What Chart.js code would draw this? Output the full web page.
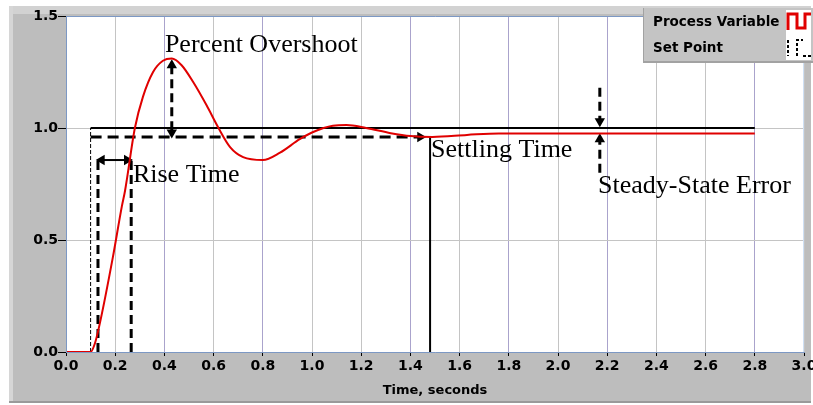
<!DOCTYPE html>
<html>
<head>
<meta charset="utf-8">
<script src="https://cdn.jsdelivr.net/npm/chart.js@4.4.1/dist/chart.umd.min.js"></script>
<style>
  html, body { margin: 0; padding: 0; background: #fff; }
  #wrap { width: 813px; height: 405px; }
</style>
</head>
<body>
<div id="wrap"><canvas id="chart" width="813" height="405"></canvas></div>
<script>
// process variable (step response)
const pvTime = [0, 0.1, 0.118, 0.138, 0.19, 0.227, 0.24, 0.28, 0.313, 0.354, 0.394, 0.43, 0.47, 0.517, 0.572, 0.62, 0.667, 0.72, 0.8, 0.87, 0.95, 1.0, 1.085, 1.14, 1.22, 1.32, 1.4, 1.49, 1.63, 1.76, 2.0, 2.4, 2.8];
const pvValue = [0, 0, 0.04, 0.13, 0.42, 0.65, 0.72, 1.0, 1.14, 1.25, 1.3, 1.31, 1.28, 1.205, 1.1, 1.0, 0.915, 0.87, 0.857, 0.89, 0.95, 0.98, 1.01, 1.013, 1.0, 0.977, 0.964, 0.96, 0.969, 0.976, 0.976, 0.976, 0.976];

// set point
const spTime = [0, 0.1, 0.1, 2.8];
const spValue = [0, 0, 1.0, 1.0];

// axis ticks
const xTicks = [0.0, 0.2, 0.4, 0.6, 0.8, 1.0, 1.2, 1.4, 1.6, 1.8, 2.0, 2.2, 2.4, 2.6, 2.8, 3.0];
const yTicks = [0.0, 0.5, 1.0, 1.5];

// annotation marks: [x0, y0, x1, y1], arrow heads at start / end
const overshootBand = [0.1, 0.96, 1.44, 0.96];
const riseLeft = [0.13, 0, 0.13, 0.857];
const riseRight = [0.265, 0, 0.265, 0.857];
const riseArrow = [0.145, 0.857, 0.248, 0.857];
const overshootArrow = [0.43, 1.28, 0.43, 0.98];
const settlingLine = [1.48, 0, 1.48, 0.96];
const sseTop = [2.17, 1.18, 2.17, 1.03];
const sseBottom = [2.17, 0.80, 2.17, 0.95];

// text labels: [text, x, y]
const labelText = ['Percent Overshoot', 'Rise Time', 'Settling Time', 'Steady-State Error'];
const labelX = [0.402, 0.272, 1.484, 2.163];
const labelY = [1.339, 0.759, 0.871, 0.71];

const legendNames = ['Process Variable', 'Set Point'];

const xGridColors = ['#c4c4c4', '#c4c4c4', '#aaa3cc', '#c4c4c4', '#aaa3cc', '#c4c4c4', '#c4c4c4', '#aaa3cc',
    '#c4c4c4', '#aaa3cc', '#c4c4c4', '#aaa3cc', '#c4c4c4', '#c4c4c4', '#aaa3cc', '#c4c4c4'];

function pts(xs, ys) {
    return xs.map((x, i) => ({ x: x, y: ys[i] }));
}

function seg(a) {
    return [{ x: a[0], y: a[1] }, { x: a[2], y: a[3] }];
}

// black annotation dataset; startRot/endRot = arrow head rotation (null = none)
function mark(a, opts) {
    const o = opts || {};
    const rots = [o.startRot, o.endRot];
    return {
        data: seg(a),
        borderColor: '#000',
        backgroundColor: '#000',
        borderWidth: o.width || 3,
        borderDash: o.dash || [],
        pointStyle: 'triangle',
        pointRadius: rots.map(r => r == null ? 0 : 6),
        pointRotation: rots.map(r => r == null ? 0 : r),
        pointBorderWidth: 0,
        tension: 0,
        order: 2
    };
}

const panelPlugin = {
    id: 'panel',
    beforeDraw(chart) {
        const c = chart.ctx;
        const a = chart.chartArea;
        c.save();
        c.fillStyle = '#fff';
        c.fillRect(0, 0, chart.width, chart.height);
        c.fillStyle = '#bdbdbd';
        c.fillRect(9, 6, 802, 397);
        c.fillStyle = '#d2d2d2';
        c.fillRect(9, 6, 802, 8);
        c.fillStyle = '#d6d6d6';
        c.fillRect(9, 6, 4, 397);
        c.fillStyle = '#9a9a9a';
        c.fillRect(9, 401, 802, 2);
        c.fillStyle = '#fff';
        c.fillRect(a.left, a.top, a.right - a.left, a.bottom - a.top);
        c.restore();
    },
    afterDraw(chart) {
        const c = chart.ctx;
        const a = chart.chartArea;
        const xs = chart.scales.x, ys = chart.scales.y;
        c.save();
        // plot frame
        c.strokeStyle = '#7c98c4';
        c.lineWidth = 1;
        c.beginPath();
        c.moveTo(a.left + 0.5, a.bottom);
        c.lineTo(a.left + 0.5, a.top + 0.5);
        c.lineTo(a.right, a.top + 0.5);
        c.stroke();
        c.strokeStyle = '#cfe0f4';
        c.beginPath();
        c.moveTo(a.right - 0.5, a.top);
        c.lineTo(a.right - 0.5, a.bottom);
        c.stroke();

        // annotation text
        c.fillStyle = '#000';
        c.font = '26px "Liberation Serif"';
        c.textBaseline = 'alphabetic';
        c.textAlign = 'left';
        labelText.forEach((t, i) => {
            c.fillText(t, xs.getPixelForValue(labelX[i]), ys.getPixelForValue(labelY[i]));
        });

        // legend box
        const lx = 643, ly = 8, lw = 170, lh = 54;
        c.fillStyle = '#c4c4c4';
        c.fillRect(lx, ly, lw, lh);
        c.fillStyle = '#a2a2a2';
        c.fillRect(lx, ly + lh - 1, lw, 2);
        c.fillRect(lx, ly, 1, lh);
        c.fillStyle = '#000';
        c.font = 'bold 13.5px "DejaVu Sans"';
        c.textBaseline = 'middle';
        c.fillText(legendNames[0], 653, 22);
        c.fillText(legendNames[1], 653, 48);
        c.fillStyle = '#fff';
        c.fillRect(786, 10, 25, 50);
        // red square wave icon
        c.strokeStyle = '#e00000';
        c.lineWidth = 3;
        c.beginPath();
        c.moveTo(788, 30);
        c.lineTo(788, 14);
        c.lineTo(797, 14);
        c.lineTo(797, 28);
        c.lineTo(805, 28);
        c.lineTo(805, 14);
        c.lineTo(811, 14);
        c.stroke();
        // black set point icon
        c.strokeStyle = '#000';
        c.lineWidth = 2;
        c.setLineDash([3, 2]);
        c.beginPath();
        c.moveTo(788, 40);
        c.lineTo(788, 56);
        c.moveTo(797, 56);
        c.lineTo(797, 40);
        c.lineTo(803, 40);
        c.moveTo(803, 56);
        c.lineTo(811, 56);
        c.stroke();
        c.restore();
    }
};

const tickFont = { family: 'DejaVu Sans', size: 14, weight: 'bold' };

new Chart(document.getElementById('chart'), {
    type: 'line',
    data: {
        datasets: [
            {
                label: legendNames[0],
                data: pts(pvTime, pvValue),
                borderColor: '#e00000',
                borderWidth: 2,
                pointRadius: 0,
                cubicInterpolationMode: 'monotone',
                order: 0
            },
            {
                label: legendNames[1],
                data: pts(spTime, spValue),
                borderColor: '#000',
                borderWidth: 2,
                pointRadius: 0,
                order: 1,
                segment: {
                    borderWidth: ctx => ctx.p0DataIndex === 1 ? 1 : 2,
                    borderDash: ctx => ctx.p0DataIndex === 1 ? [4, 2] : []
                }
            },
            mark(overshootBand, { dash: [11, 6], endRot: 90 }),
            mark(riseLeft, { dash: [9, 5] }),
            mark(riseRight, { dash: [9, 5] }),
            mark(riseArrow, { width: 2, startRot: 270, endRot: 90 }),
            mark(overshootArrow, { dash: [9, 5], startRot: 0, endRot: 180 }),
            mark(settlingLine, { width: 2 }),
            mark(sseTop, { dash: [9, 5], endRot: 180 }),
            mark(sseBottom, { dash: [9, 5], endRot: 0 })
        ]
    },
    options: {
        responsive: false,
        animation: false,
        devicePixelRatio: 1,
        layout: { padding: { left: 0, top: 16, right: 9, bottom: 0 } },
        plugins: {
            legend: { display: false },
            tooltip: { enabled: false }
        },
        scales: {
            x: {
                type: 'linear',
                min: 0,
                max: 3,
                afterBuildTicks: s => { s.ticks = xTicks.map(v => ({ value: v })); },
                afterFit: s => { s.height = 53; s.paddingLeft = 0; s.paddingRight = 0; },
                ticks: {
                    color: '#000',
                    font: tickFont,
                    padding: 2,
                    maxRotation: 0,
                    callback: v => v.toFixed(1)
                },
                grid: {
                    color: ctx => xGridColors[ctx.index] || '#c4c4c4',
                    tickColor: '#000',
                    tickLength: 4,
                    lineWidth: 1
                },
                border: { color: '#7c98c4' },
                title: {
                    display: true,
                    text: 'Time, seconds',
                    color: '#000',
                    font: { family: 'DejaVu Sans', size: 13, weight: 'bold' },
                    padding: { top: 0, bottom: 7 }
                }
            },
            y: {
                min: 0,
                max: 1.5,
                afterBuildTicks: s => { s.ticks = yTicks.map(v => ({ value: v })); },
                afterFit: s => { s.width = 66; s.paddingTop = 0; s.paddingBottom = 0; },
                ticks: {
                    color: '#000',
                    font: tickFont,
                    padding: 0,
                    callback: v => v.toFixed(1)
                },
                grid: {
                    color: '#c4c4c4',
                    tickColor: '#000',
                    tickLength: 8
                },
                border: { color: '#7c98c4' }
            }
        }
    },
    plugins: [panelPlugin]
});
</script>
</body>
</html>
